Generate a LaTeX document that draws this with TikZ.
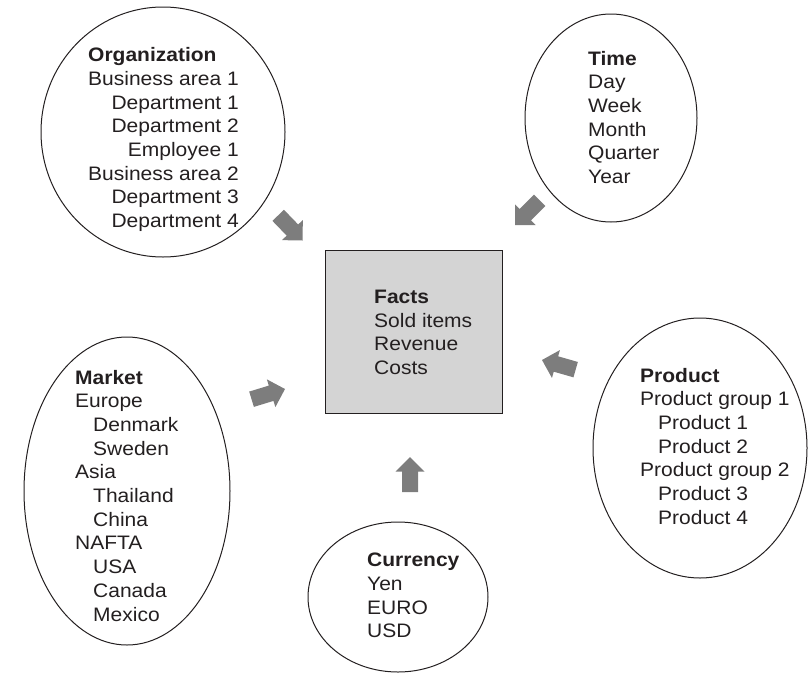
\documentclass[tikz,border=0pt]{standalone}
\usepackage{fontspec}
\setmainfont{Liberation Sans}[FakeStretch=1.077]
\usetikzlibrary{shapes.geometric}
\definecolor{boxgray}{RGB}{212,212,212}
\definecolor{arrowgray}{RGB}{125,125,125}
\definecolor{ink}{RGB}{35,31,32}
% block arrow: name, tip x, tip y, direction angle (canvas degrees)
\newcommand{\blkarrow}[4]{%
  \begin{scope}[shift={(#2,#3)}, rotate=#4]
    \fill[arrowgray] (0,0) -- (-14.5,14.5) -- (-14.5,8) -- (-35,8) -- (-35,-8)
      -- (-14.5,-8) -- (-14.5,-14.5) -- cycle;
    \coordinate (#1) at (0,0);
  \end{scope}}
\begin{document}
\begin{tikzpicture}[x=1pt,y=-1pt,
  lbl/.style={inner sep=0pt, anchor=base west, text=ink,
    font=\fontsize{19.5}{23.7}\selectfont},
  oval/.style={ellipse, draw=ink, line width=1pt, inner sep=0pt},
  factbox/.style={rectangle, draw=ink, line width=1pt, fill=boxgray, inner sep=0pt}
]
\useasboundingbox (0,0) rectangle (811,675);

% ovals
\node[oval, minimum width=244pt, minimum height=250pt] (org) at (163,132) {};
\node[oval, minimum width=172pt, minimum height=208pt] (time) at (611,118) {};
\node[oval, minimum width=206pt, minimum height=308pt] (market) at (127,491) {};
\node[oval, minimum width=214pt, minimum height=260pt] (product) at (700,448) {};
\node[oval, minimum width=180pt, minimum height=150pt] (currency) at (398,597) {};

% facts box
\node[factbox, minimum width=177pt, minimum height=163pt] (facts) at (413.5,331.5) {};

% texts
\node[lbl] (orgtxt) at (88,61.7) {\begin{tabular}[t]{@{}r@{}}\multicolumn{1}{@{}l@{}}{\textbf{Organization}}\\
Business area 1\\Department 1\\Department 2\\Employee 1\\Business area 2\\Department 3\\Department 4\end{tabular}};

\node[lbl] (timetxt) at (588,65) {\begin{tabular}[t]{@{}l@{}}\textbf{Time}\\Day\\Week\\Month\\Quarter\\Year\end{tabular}};

\node[lbl] (factstxt) at (374,303.3) {\begin{tabular}[t]{@{}l@{}}\textbf{Facts}\\Sold items\\Revenue\\Costs\end{tabular}};

\node[lbl] (markettxt) at (75,384) {\begin{tabular}[t]{@{}l@{}}\textbf{Market}\\Europe\\
\hspace*{18pt}Denmark\\\hspace*{18pt}Sweden\\Asia\\\hspace*{18pt}Thailand\\\hspace*{18pt}China\\
NAFTA\\\hspace*{18pt}USA\\\hspace*{18pt}Canada\\\hspace*{18pt}Mexico\end{tabular}};

\node[lbl] (producttxt) at (640,382) {\begin{tabular}[t]{@{}l@{}}\textbf{Product}\\Product group 1\\
\hspace*{18pt}Product 1\\\hspace*{18pt}Product 2\\Product group 2\\\hspace*{18pt}Product 3\\\hspace*{18pt}Product 4\end{tabular}};

\node[lbl] (currencytxt) at (367,566.7) {\begin{tabular}[t]{@{}l@{}}\textbf{Currency}\\Yen\\EURO\\USD\end{tabular}};

% block arrows
\blkarrow{aorg}{302.5}{240.5}{-46}
\blkarrow{atime}{515}{225}{-135}
\blkarrow{amarket}{285}{389}{17}
\blkarrow{aproduct}{542}{360}{164}
\blkarrow{acurrency}{410}{457}{90}
\end{tikzpicture}
\end{document}
